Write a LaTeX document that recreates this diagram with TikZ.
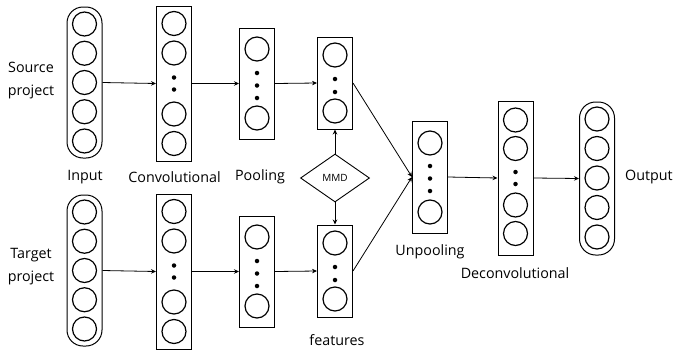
\documentclass[tikz,border=0pt]{standalone}
\usepackage{fontspec}
\setmainfont{Open Sans}
\usetikzlibrary{shapes.geometric,arrows.meta}
\begin{document}
\begin{tikzpicture}[x=1pt,y=-1pt,
  layer/.style={draw, line width=1pt, minimum width=35pt, inner sep=0pt},
  roundlayer/.style={layer, rounded corners=16pt},
  unit/.style={circle, draw, line width=1.2pt, minimum size=24pt, inner sep=0pt},
  dot/.style={circle, fill, minimum size=4.5pt, inner sep=0pt},
  lbl/.style={font=\fontsize{14.3}{23}\selectfont, inner sep=0pt, align=center},
  arr/.style={-{Stealth[length=5pt,width=4.5pt]}, line width=0.8pt}
]
\useasboundingbox (0,0) rectangle (674,351);

% two encoder branches: source (top) and target (bottom)
\foreach \r/\off in {s/0,t/188}{
  % input layer
  \node[roundlayer, minimum height=151pt] (\r-in) at (84.5,{82.5+\off}) {};
  \foreach \yy [count=\i] in {24,53.25,82.5,111.75,141}
    \node[unit] (\r-in\i) at (84.5,{\yy+\off}) {};
  % convolutional layer
  \node[layer, minimum height=155pt] (\r-cv) at (174,{83.5+\off}) {};
  \foreach \yy [count=\i] in {23.5,53,114,143.5}
    \node[unit] (\r-cv\i) at (174,{\yy+\off}) {};
  \foreach \yy [count=\i] in {77.5,89.5}
    \node[dot] (\r-cvd\i) at (174,{\yy+\off}) {};
  % pooling layer
  \node[layer, minimum height=111pt] (\r-pl) at (257,{83.5+\off}) {};
  \foreach \yy [count=\i] in {49,118}
    \node[unit] (\r-pl\i) at (257,{\yy+\off}) {};
  \foreach \yy [count=\i] in {73,85.5,98}
    \node[dot] (\r-pld\i) at (257,{\yy+\off}) {};
  % feature layer
  \node[layer, minimum height=92pt] (\r-ft) at (335,{83+\off}) {};
  \foreach \yy [count=\i] in {55,111}
    \node[unit] (\r-ft\i) at (335,{\yy+\off}) {};
  \foreach \yy [count=\i] in {79,92}
    \node[dot] (\r-ftd\i) at (335,{\yy+\off}) {};
  % forward connections
  \draw[arr] (\r-in.east) -- (\r-cv.west);
  \draw[arr] (\r-cv.east) -- (\r-pl.west);
  \draw[arr] (\r-pl.east) -- (\r-ft.west);
}

% decoder: unpooling layer
\node[layer, minimum height=112pt] (up) at (430,177) {};
\foreach \yy [count=\i] in {143,212}
  \node[unit] (up\i) at (430,\yy) {};
\foreach \yy [count=\i] in {166,178.5,191}
  \node[dot] (upd\i) at (430,\yy) {};

% deconvolutional layer
\node[layer, minimum height=154pt] (dc) at (515.5,178) {};
\foreach \yy [count=\i] in {120,148.5,205,233.5}
  \node[unit] (dc\i) at (515.5,\yy) {};
\foreach \yy [count=\i] in {172,184}
  \node[dot] (dcd\i) at (515.5,\yy) {};

% output layer
\node[roundlayer, minimum height=153pt] (out) at (597,178.5) {};
\foreach \yy [count=\i] in {119,148.5,178,207.5,237}
  \node[unit] (out\i) at (597,\yy) {};

% MMD between the two feature layers
\node[diamond, draw, line width=0.9pt, minimum width=69pt, minimum height=48pt,
      inner sep=0pt, font=\fontsize{10}{12}\selectfont] (mmd) at (335,178) {MMD};
\draw[arr] (mmd.north) -- (s-ft.south);
\draw[arr] (mmd.south) -- (t-ft.north);

\draw[arr] (s-ft.east) -- (up.west);
\draw[arr] (t-ft.east) -- (up.west);
\draw[arr] (up.east) -- (dc.west);
\draw[arr] (dc.east) -- (out.west);

% labels
\node[lbl] (lsrc) at (31,81) {Source\\project};
\node[lbl] (ltgt) at (31,267) {Target\\project};
\node[lbl] (lin) at (85,177) {Input};
\node[lbl] (lcv) at (174.5,177) {Convolutional};
\node[lbl] (lpl) at (260,177) {Pooling};
\node[lbl] (lft) at (337,340) {features};
\node[lbl] (lup) at (430,252) {Unpooling};
\node[lbl] (ldc) at (515,273) {Deconvolutional};
\node[lbl] (lout) at (649,177) {Output};
\end{tikzpicture}
\end{document}
